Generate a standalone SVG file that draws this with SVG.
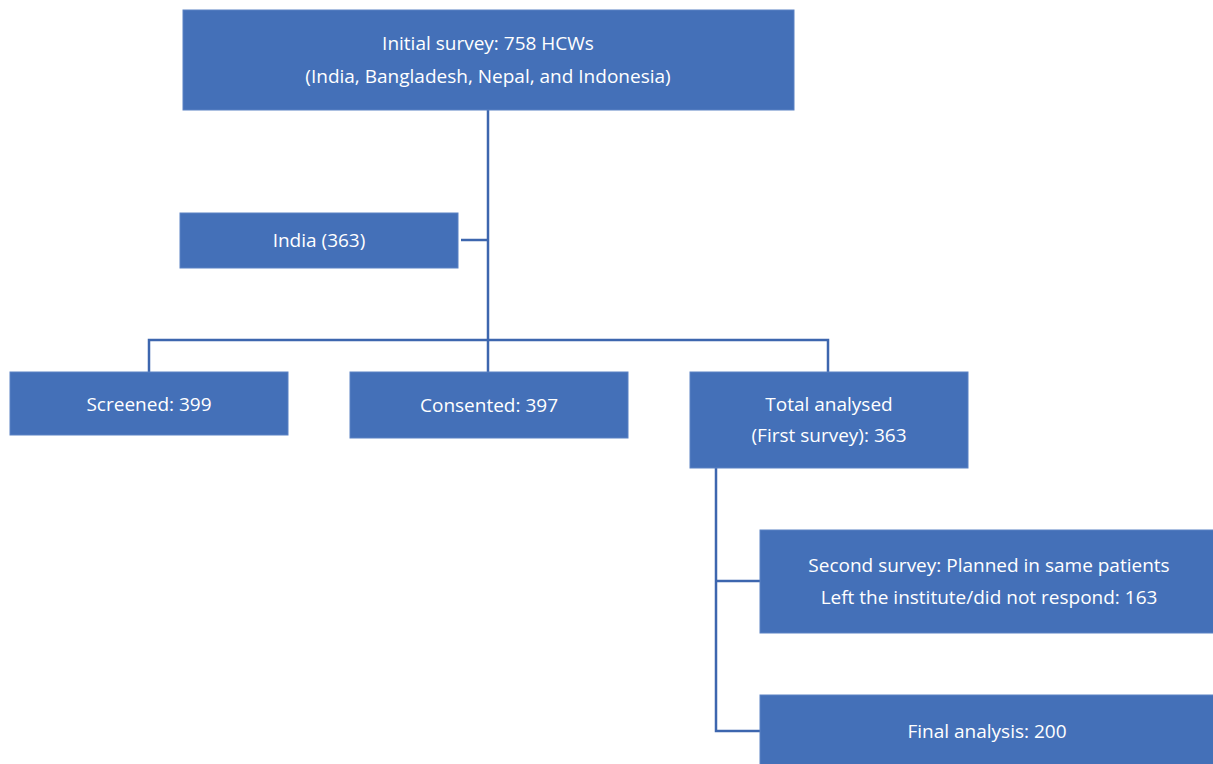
<svg xmlns="http://www.w3.org/2000/svg" width="1213" height="764" viewBox="0 0 1213 764">
<style>
.box{fill:#4470B8;stroke:#5B82C4;stroke-width:1}
.t{font-family:"Open Sans","Liberation Sans",sans-serif;font-size:19px;fill:#FFFFFF;text-anchor:middle}
.c{fill:none;stroke:#3D66AE;stroke-width:2.5}
</style>
<rect width="1213" height="764" fill="#FFFFFF"/>
<g id="connectors">
<path class="c" d="M488 110V372"/>
<path class="c" d="M461 240H488"/>
<path class="c" d="M149 372V340H828V372"/>
<path class="c" d="M716 468V731H760"/>
<path class="c" d="M716 581H760"/>
</g>
<g id="initial">
<rect class="box" x="183" y="10" width="611" height="100"/>
<text class="t" x="488" y="50">Initial survey: 758 HCWs</text>
<text class="t" x="488" y="83">(India, Bangladesh, Nepal, and Indonesia)</text>
</g>
<g id="india">
<rect class="box" x="180" y="213" width="278" height="55"/>
<text class="t" x="319" y="247">India (363)</text>
</g>
<g id="screened">
<rect class="box" x="10" y="372" width="278" height="63"/>
<text class="t" x="149" y="411">Screened: 399</text>
</g>
<g id="consented">
<rect class="box" x="350" y="372" width="278" height="66"/>
<text class="t" x="489" y="412">Consented: 397</text>
</g>
<g id="total">
<rect class="box" x="690" y="372" width="278" height="96"/>
<text class="t" x="829" y="411">Total analysed</text>
<text class="t" x="829" y="442">(First survey): 363</text>
</g>
<g id="second">
<rect class="box" x="760" y="530" width="460" height="103"/>
<text class="t" x="989" y="572">Second survey: Planned in same patients</text>
<text class="t" x="989" y="604">Left the institute/did not respond: 163</text>
</g>
<g id="final">
<rect class="box" x="760" y="695" width="460" height="75"/>
<text class="t" x="987" y="738">Final analysis: 200</text>
</g>
</svg>
